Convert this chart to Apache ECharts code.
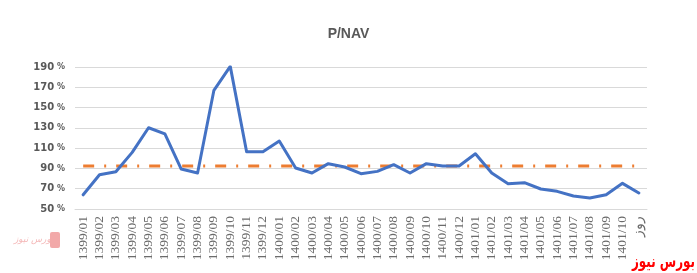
<!DOCTYPE html>
<html>
<head>
<meta charset="utf-8">
<script src="https://cdn.jsdelivr.net/npm/echarts@6/dist/echarts.min.js"></script>
<style>html,body{margin:0;padding:0;background:#fff}#c{width:697px;height:273px}</style>
</head>
<body>
<div id="c"></div>
<script>
const categories = ['1399/01','1399/02','1399/03','1399/04','1399/05','1399/06','1399/07','1399/08','1399/09','1399/10','1399/11','1399/12',
  '1400/01','1400/02','1400/03','1400/04','1400/05','1400/06','1400/07','1400/08','1400/09','1400/10','1400/11','1400/12',
  '1401/01','1401/02','1401/03','1401/04','1401/05','1401/06','1401/07','1401/08','1401/09','1401/10','روز'];
const pnavValues = [64, 83.8, 86.8, 105.8, 130.1, 124, 89.4, 85.5, 167, 190.6, 106.5, 106.5,
  117, 90.4, 85.5, 94.7, 91.4, 84.8, 87.1, 93.7, 85.5, 94.7, 92.4, 92.4,
  104.5, 85.5, 75, 76, 69.7, 67.4, 62.8, 60.8, 64.1, 75.3, 65.8];
const avgValues = [92.4,92.4,92.4,92.4,92.4,92.4,92.4,92.4,92.4,92.4,92.4,92.4,
  92.4,92.4,92.4,92.4,92.4,92.4,92.4,92.4,92.4,92.4,92.4,92.4,
  92.4,92.4,92.4,92.4,92.4,92.4,92.4,92.4,92.4,92.4,92.4];
const yMin = 50, yMax = 190, yStep = 20;

const chart = echarts.init(document.getElementById('c'), null, {renderer: 'canvas'});
chart.setOption({
  animation: false,
  backgroundColor: '#fff',
  title: {
    text: 'P/NAV', left: 'center', top: 22,
    textStyle: {fontFamily: 'Liberation Sans', fontWeight: 'bold', fontSize: 14, color: '#595959'}
  },
  grid: {left: 75, right: 50, top: 67, bottom: 64, containLabel: false},
  xAxis: {
    type: 'category', data: categories, boundaryGap: true,
    axisLine: {lineStyle: {color: '#d9d9d9'}},
    axisTick: {show: false},
    axisLabel: {rotate: 90, interval: 0, margin: 7, color: '#6b6b6b',
      fontFamily: 'Liberation Serif', fontSize: 13.5}
  },
  yAxis: {
    type: 'value', min: yMin, max: yMax, interval: yStep,
    axisLine: {show: false}, axisTick: {show: false},
    splitLine: {lineStyle: {color: '#d9d9d9', width: 1}},
    axisLabel: {margin: 10, color: '#595959',
      formatter: v => '{a|' + v + '}{b| %}',
      rich: {
        a: {fontFamily: 'DejaVu Sans', fontWeight: 'bold', fontSize: 10, color: '#595959'},
        b: {fontFamily: 'DejaVu Sans', fontWeight: 'bold', fontSize: 8, color: '#595959'}
      }}
  },
  series: [
    {type: 'line', data: avgValues, symbol: 'none', z: 2,
      lineStyle: {color: '#ED7D31', width: 3, type: [11, 10, 2, 10]}},
    {type: 'line', data: pnavValues, symbol: 'none', z: 3,
      lineStyle: {color: '#4472C4', width: 3, join: 'round', cap: 'round'}}
  ],
  graphic: [
    {type: 'text', x: 695, y: 271, scaleX: 0.7, z: 100,
      style: {text: 'بورس نیوز', fill: '#ff0000', font: 'bold 17px "DejaVu Sans"',
        textAlign: 'right', textVerticalAlign: 'bottom'}},
    {type: 'group', left: 14, top: 232, children: [
      {type: 'text', x: 0, y: 0, style: {text: 'بورس نیوز', fill: '#f4b7b7', font: 'italic 9px "DejaVu Sans"'}},
      {type: 'rect', shape: {x: 36, y: -3, width: 10, height: 16, r: 2}, style: {fill: '#f2a9a9'}}
    ]}
  ]
});
</script>
</body>
</html>
